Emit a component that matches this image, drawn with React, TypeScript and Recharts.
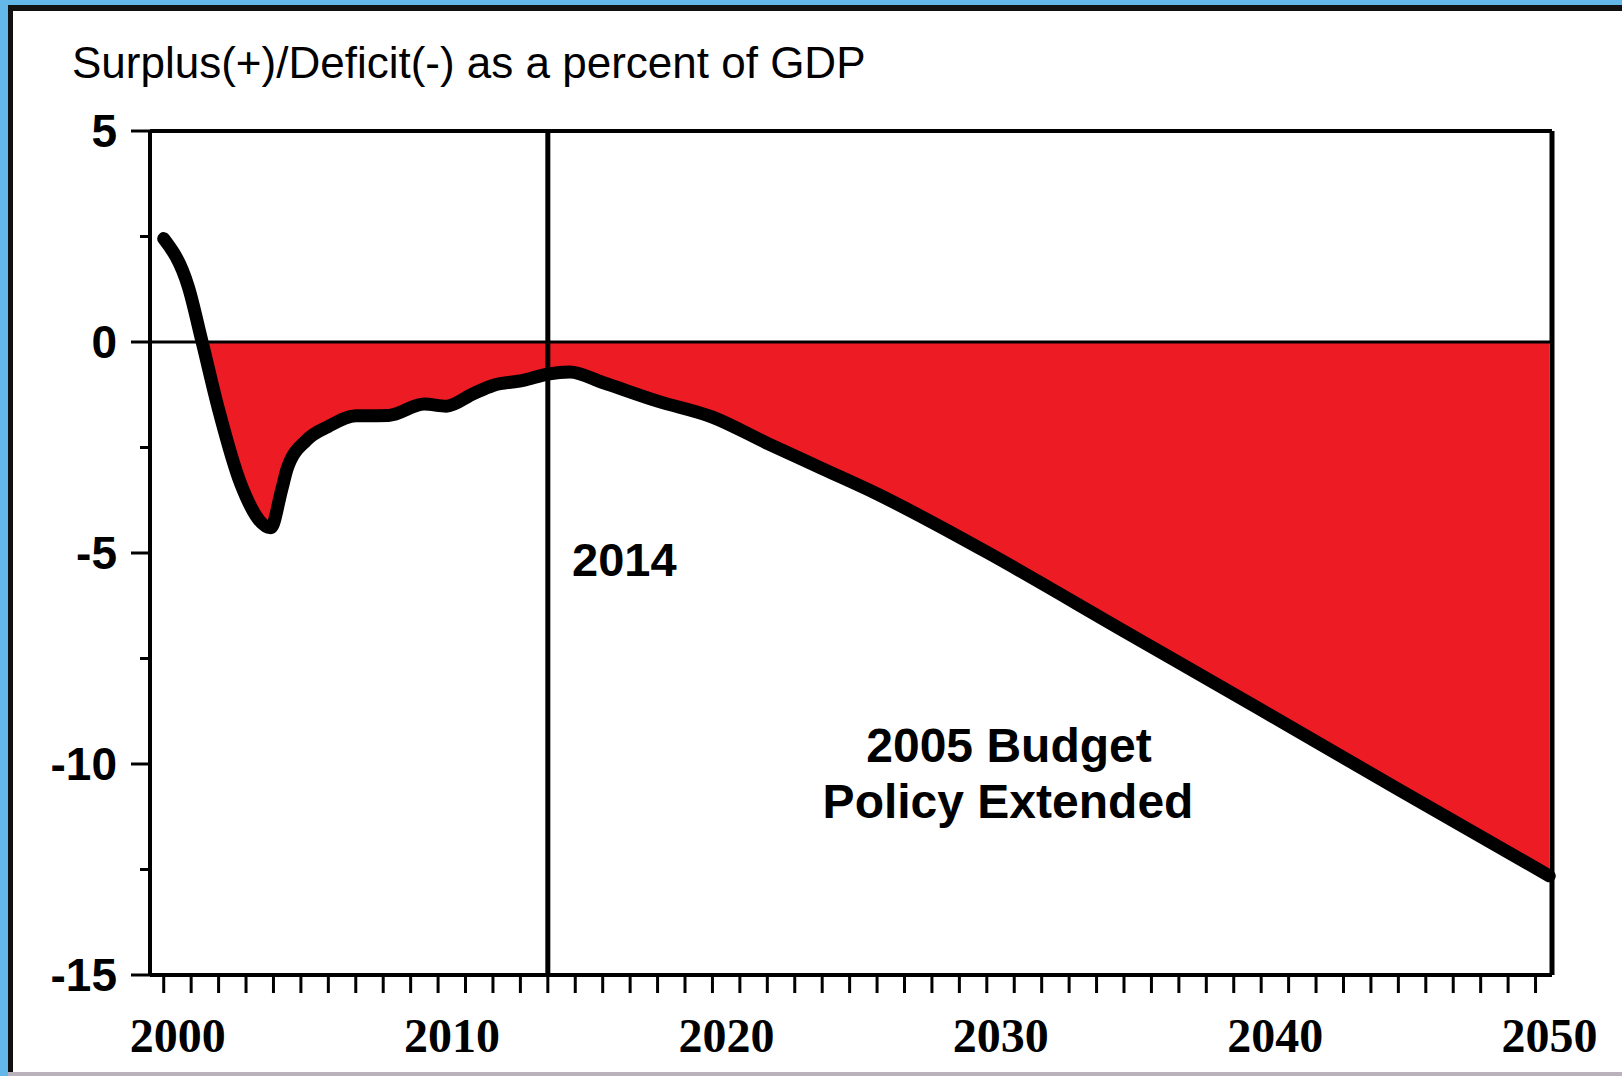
import { Area, ComposedChart, Line, ReferenceLine, XAxis, YAxis } from 'recharts'

// year (fractional where the curve bends) and surplus/deficit as % of GDP
const years = [
  2000, 2000.9, 2001.4, 2002, 2002.8, 2003.9, 2004.3, 2004.5, 2005.2, 2006, 2007, 2008.2, 2009.5,
  2010.3, 2011.3, 2012, 2013.1, 2014, 2014.8, 2016, 2018, 2020, 2022, 2024, 2026, 2028, 2030,
  2035, 2040, 2045, 2050.5,
]
const balance = [
  2.45, 1.3, 0, -1.6, -3.35, -4.4, -3.5, -3.0, -2.33, -2.0, -1.75, -1.74, -1.47,
  -1.52, -1.22, -1.03, -0.91, -0.76, -0.71, -0.96, -1.4, -1.78, -2.4, -3.0, -3.6, -4.27, -4.98,
  -6.85, -8.72, -10.6, -12.65,
]

const yTicks = [5, 2.5, 0, -2.5, -5, -7.5, -10, -12.5, -15]
const yLabels = ['5', '0', '-5', '-10', '-15']
const xLabels = ['2000', '2010', '2020', '2030', '2040', '2050']
const xTicks = Array.from({ length: 51 }, (_, i) => 2000 + i)

const X_MIN = 1999.5
const X_MAX = 2050.6
const POLICY_YEAR = 2014

const data = years.map((year, i) => ({
  year,
  balance: balance[i],
  deficit: Math.min(balance[i], 0),
}))

const XTick = ({ x, y, payload }: any) => {
  const label = String(payload.value)
  return (
    <g>
      <line x1={x} x2={x} y1={y} y2={y + 18} stroke="#000" strokeWidth={3} />
      {xLabels.includes(label) && (
        <text
          x={x + 14}
          y={y + 77}
          textAnchor="middle"
          fontFamily="'Liberation Serif', 'Times New Roman', serif"
          fontWeight="bold"
          fontSize={48}
          fill="#000"
        >
          {label}
        </text>
      )}
    </g>
  )
}

const YTick = ({ x, y, payload }: any) => {
  const label = String(payload.value)
  const major = yLabels.includes(label)
  return (
    <g>
      <line x1={x - (major ? 19 : 10)} x2={x} y1={y} y2={y} stroke="#000" strokeWidth={3} />
      {major && (
        <text
          x={x - 33}
          y={y + 16}
          textAnchor="end"
          fontFamily="'Liberation Sans', Arial, sans-serif"
          fontWeight="bold"
          fontSize={46}
          fill="#000"
        >
          {label}
        </text>
      )}
    </g>
  )
}

export default function App() {
  return (
    <div style={{ position: 'absolute', left: 0, top: 0, width: 1622, height: 1076, background: '#64B8E9', overflow: 'hidden' }}>
      <div
        style={{
          position: 'absolute',
          left: 8,
          top: 5,
          right: 0,
          bottom: 4,
          background: '#fff',
          borderLeft: '5px solid #111',
          borderTop: '6px solid #111',
        }}
      />
      <div style={{ position: 'absolute', left: 8, right: 0, bottom: 0, height: 4, background: '#B9B2BA' }} />
      <div style={{ position: 'absolute', left: 0, top: 0 }}>
        <ComposedChart width={1622} height={1076} data={data} margin={{ top: 131, right: 70, bottom: 0, left: 0 }}>
          <XAxis
            dataKey="year"
            type="number"
            domain={[X_MIN, X_MAX]}
            ticks={xTicks}
            interval={0}
            height={101}
            tickSize={0}
            tickMargin={0}
            tickLine={false}
            axisLine={{ stroke: '#000', strokeWidth: 4 }}
            tick={<XTick />}
          />
          <YAxis
            type="number"
            domain={[-15, 5]}
            ticks={yTicks}
            interval={0}
            width={150}
            tickSize={0}
            tickMargin={0}
            tickLine={false}
            axisLine={{ stroke: '#000', strokeWidth: 4 }}
            tick={<YTick />}
          />
          <Area
            dataKey="deficit"
            type="monotone"
            baseValue={0}
            stroke="none"
            fill="#ED1C24"
            fillOpacity={1}
            isAnimationActive={false}
          />
          <ReferenceLine y={0} stroke="#000" strokeWidth={3} />
          <ReferenceLine y={5} stroke="#000" strokeWidth={4} />
          <ReferenceLine x={X_MAX} stroke="#000" strokeWidth={5} />
          <ReferenceLine x={POLICY_YEAR} stroke="#000" strokeWidth={5} />
          <Line
            dataKey="balance"
            type="monotone"
            stroke="#000"
            strokeWidth={13}
            strokeLinecap="round"
            strokeLinejoin="round"
            dot={false}
            isAnimationActive={false}
          />
        </ComposedChart>
      </div>
      <svg width={1622} height={1076} style={{ position: 'absolute', left: 0, top: 0, pointerEvents: 'none' }}>
        <text x={72} y={78} fontFamily="'Liberation Sans', Arial, sans-serif" fontSize={44} fill="#000">
          Surplus(+)/Deficit(-) as a percent of GDP
        </text>
        <text x={572} y={576} fontFamily="'Liberation Sans', Arial, sans-serif" fontWeight="bold" fontSize={47} fill="#000">
          2014
        </text>
        <text x={1009} y={762} textAnchor="middle" fontFamily="'Liberation Sans', Arial, sans-serif" fontWeight="bold" fontSize={48} fill="#000">
          2005 Budget
        </text>
        <text x={1008} y={818} textAnchor="middle" fontFamily="'Liberation Sans', Arial, sans-serif" fontWeight="bold" fontSize={48} fill="#000">
          Policy Extended
        </text>
      </svg>
    </div>
  )
}
